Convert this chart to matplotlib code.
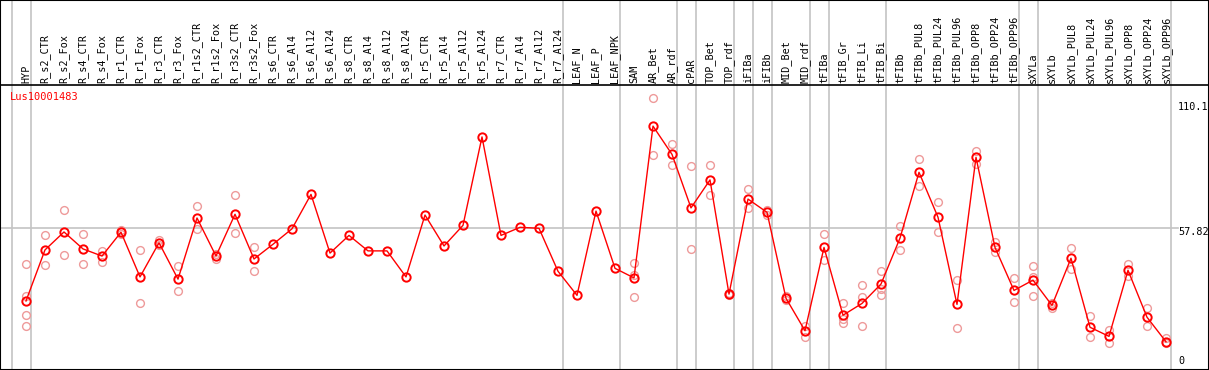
import matplotlib
matplotlib.use("Agg")
import matplotlib.pyplot as plt

categories = ["HYP", "R_s2_CTR", "R_s2_Fox", "R_s4_CTR", "R_s4_Fox", "R_r1_CTR", "R_r1_Fox",
              "R_r3_CTR", "R_r3_Fox", "R_r1s2_CTR", "R_r1s2_Fox", "R_r3s2_CTR", "R_r3s2_Fox",
              "R_s6_CTR", "R_s6_Al4", "R_s6_Al12", "R_s6_Al24", "R_s8_CTR", "R_s8_Al4",
              "R_s8_Al12", "R_s8_Al24", "R_r5_CTR", "R_r5_Al4", "R_r5_Al12", "R_r5_Al24",
              "R_r7_CTR", "R_r7_Al4", "R_r7_Al12", "R_r7_Al24", "LEAF_N", "LEAF_P", "LEAF_NPK",
              "SAM", "AR_Bet", "AR_rdf", "cPAR", "TOP_Bet", "TOP_rdf", "iFIBa", "iFIBb",
              "MID_Bet", "MID_rdf", "tFIBa", "tFIB_Gr", "tFIB_Li", "tFIB_Bi", "tFIBb",
              "tFIBb_PUL8", "tFIBb_PUL24", "tFIBb_PUL96", "tFIBb_OPP8", "tFIBb_OPP24",
              "tFIBb_OPP96", "sXYLa", "sXYLb", "sXYLb_PUL8", "sXYLb_PUL24", "sXYLb_PUL96",
              "sXYLb_OPP8", "sXYLb_OPP24", "sXYLb_OPP96"]

means = [28.1, 48.9, 56.2, 49.3, 46.4, 56.1, 37.9, 51.8, 37.0, 61.9, 46.4, 63.4, 45.2,
         51.2, 57.5, 71.5, 47.6, 54.8, 48.5, 48.5, 37.9, 63.1, 50.5, 58.9, 94.9,
         54.8, 58.1, 57.7, 40.2, 30.4, 64.7, 41.4,
         37.5, 99.3, 87.8, 66.0, 77.4, 30.9, 69.6, 64.2, 29.2, 16.0, 49.9, 22.3, 27.1, 35.0,
         53.7, 80.5, 62.2, 26.7, 86.6, 49.9, 32.4, 36.6, 26.3, 45.5, 17.4, 13.7, 40.6, 21.5, 11.5]

replicates = [[43.0, 30.1, 22.4, 17.9], [54.8, 42.8], [65.1, 46.7], [55.2, 43.0], [48.6, 43.8],
              [57.0, 55.2], [48.7, 27.3], [52.9, 50.9], [42.3, 32.0], [66.6, 57.3], [47.2, 45.3],
              [71.3, 55.8], [50.1, 40.3],
              [], [], [], [], [], [], [], [], [], [], [], [], [], [], [], [], [], [], [],
              [43.6, 38.8, 29.6], [110.6, 87.4], [92.0, 83.3], [82.9, 49.1], [83.3, 71.1],
              [31.3, 30.5], [73.7, 65.8], [65.1, 63.1], [30.1, 28.5], [17.9, 13.6], [55.4, 44.6],
              [27.1, 20.6, 19.0], [34.5, 29.6, 17.8], [40.4, 32.8, 30.5], [58.6, 48.9],
              [85.8, 74.8], [68.3, 56.1], [36.5, 17.0], [89.2, 83.9], [52.0, 48.2], [37.3, 27.6],
              [42.2, 37.7, 30.0], [27.1, 25.2], [49.5, 41.1], [21.9, 13.3], [16.4, 11.1],
              [43.0, 38.3], [25.1, 18.0], [13.2, 10.9]]

group_ends = [-1, 0, 28, 31, 34, 35, 37, 38, 39, 41, 42, 45, 52, 53, 60]
gene = "Lus10001483"
ref_value = 57.82
axis_labels = ["110.1", "57.82", "0"]

W, H = 1209, 370
fig = plt.figure(figsize=(W / 100, H / 100), dpi=100)
ax = fig.add_axes([0, 0, 1, 1])

# pixel <-> data helpers
x0, dx = 26.0, 19.0
pxv = 2.456
def X(px):
    return (px - x0) / dx
def Y(py):
    return (H - py) / pxv

ax.set_xlim(X(0), X(W))
ax.set_ylim(Y(H), Y(0))
ax.set_xticks([])
ax.set_yticks([])
for s in ax.spines.values():
    s.set_color("black")
    s.set_linewidth(1.5)

mono = "DejaVu Sans Mono"
grid_c = "#c4c4c4"

# band separator
ax.axhline(Y(85), color="black", lw=1.2, zorder=5)

# vertical group lines
for g in group_ends:
    ax.axvline(g + 0.24, color=grid_c, lw=1.2, zorder=1)

# horizontal reference line
ax.plot([X(0), X(1178)], [ref_value, ref_value], color=grid_c, lw=1.2, zorder=1)

xs = list(range(len(categories)))

# category labels
for i, c in enumerate(categories):
    ax.text(i, Y(83), c, rotation=90, ha="center", va="bottom",
            fontsize=7.3, family=mono, color="black")

# replicates
rx, ry = [], []
for i, reps in enumerate(replicates):
    for r in reps:
        rx.append(i)
        ry.append(r)
ax.plot(rx, ry, linestyle="none", marker="o", markersize=5.6, markerfacecolor="none",
        markeredgecolor="#ee9a9a", markeredgewidth=1.0, zorder=2)

# mean line
ax.plot(xs, means, color="#ff0000", lw=1.0, zorder=3)
ax.plot(xs, means, linestyle="none", marker="o", markersize=6.0, markerfacecolor="none",
        markeredgecolor="#ff0000", markeredgewidth=1.4, zorder=4)

# title
ax.text(X(10), Y(92), gene, color="#ff0000", fontsize=7.5, family=mono,
        ha="left", va="top")

# y labels
ax.text(X(1178), Y(102), axis_labels[0], fontsize=7.3, family=mono, ha="left", va="top")
ax.text(X(1178), Y(227), axis_labels[1], fontsize=7.3, family=mono, ha="left", va="top")
ax.text(X(1178), Y(366), axis_labels[2], fontsize=7.3, family=mono, ha="left", va="bottom")

fig.savefig("out.png", dpi=100)
